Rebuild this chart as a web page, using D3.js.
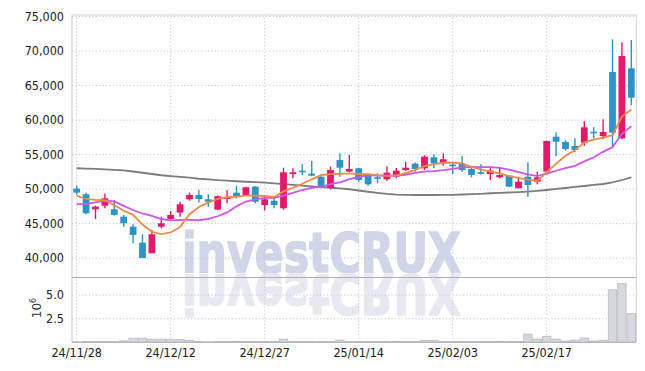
<!DOCTYPE html>
<html>
<head>
<meta charset="utf-8">
<script src="https://cdn.jsdelivr.net/npm/d3@7"></script>
<style>
  body { margin: 0; background: #fff; }
  svg text { font-family: "DejaVu Sans Condensed", "DejaVu Sans", sans-serif; font-stretch: condensed; }
</style>
</head>
<body>
<svg></svg>
<script>
// trading days
const dates = ["24/11/28","24/11/29","24/12/02","24/12/03","24/12/04","24/12/05","24/12/06","24/12/09","24/12/10","24/12/11",
  "24/12/12","24/12/13","24/12/16","24/12/17","24/12/18","24/12/19","24/12/20","24/12/23","24/12/24","24/12/26",
  "24/12/27","24/12/30","25/01/02","25/01/03","25/01/06","25/01/07","25/01/08","25/01/09","25/01/10","25/01/13",
  "25/01/14","25/01/15","25/01/16","25/01/17","25/01/20","25/01/21","25/01/22","25/01/23","25/01/24","25/01/31",
  "25/02/03","25/02/04","25/02/05","25/02/06","25/02/07","25/02/10","25/02/11","25/02/12","25/02/13","25/02/14",
  "25/02/17","25/02/18","25/02/19","25/02/20","25/02/21","25/02/24","25/02/25","25/02/26","25/02/27","25/02/28"]

const open = [50000,49180,47010,47530,47010,45940,44490,42170,40640,44490,
  45610,46530,48460,49080,48460,46960,48500,49410,49080,50290,
  47630,48250,47150,52120,52600,52170,51730,50130,54150,52460,
  52950,51830,51640,51350,51730,52690,53620,52950,54540,53670,
  53470,53570,52850,52370,52120,51640,51880,50050,51730,51010,
  52460,57530,56750,56180,56650,58250,57620,66890,57290,67430]

const high = [50400,49410,47530,49300,48360,46190,44840,43390,44010,45940,
  46760,48110,49410,49750,49180,49000,49800,50430,50250,50380,
  48600,48600,53030,52950,53530,54010,51800,53190,55120,54860,
  53000,51900,52220,53190,53000,53900,53800,54860,54990,55120,
  53900,54770,53300,53530,53190,53030,51950,51730,53810,52460,
  56950,58160,57000,57290,59800,58880,60040,71620,71190,71530]

const low = [49100,46300,45600,47150,46100,44490,42090,39950,40640,44260,
  45390,45940,48250,48000,47390,46900,47870,48600,49000,47870,
  46820,47150,46950,51500,51980,51800,50050,49900,51730,52400,
  51010,50380,50770,51150,51500,52600,52450,52700,52950,53300,
  52120,52400,51640,52030,51250,51450,50200,50050,48840,50630,
  52400,54730,55500,55300,56200,57290,57140,55850,57140,62110]

const close = [49420,46430,47390,48600,46190,44980,43290,39950,43390,44980,
  46190,47730,49080,48500,48110,48900,48750,48830,50200,48110,
  48460,47630,52370,52370,52370,51880,50290,52690,53030,52850,
  51250,50630,51440,52310,52600,53030,52850,54630,53670,54250,
  53240,52690,51980,52170,52600,51980,50290,51010,50530,51640,
  56900,56800,55740,55600,58880,58020,58200,58100,69210,63170]

const volume = [20000,50000,50000,50000,50000,120000,400000,400000,300000,300000,
  280000,280000,150000,60000,30000,60000,60000,60000,60000,60000,
  60000,60000,300000,60000,60000,60000,60000,60000,200000,60000,
  60000,60000,60000,60000,60000,60000,60000,150000,150000,50000,
  50000,50000,50000,50000,50000,50000,50000,50000,830000,300000,
  600000,300000,100000,200000,420000,100000,180000,5500000,6150000,3000000]

// moving averages (orange short, purple mid, gray long)
const ma5 = [48940,48500,48360,48300,47630,46800,46200,44800,43750,43400,
  43650,44450,46300,47350,48000,48500,48750,48850,49000,49000,
  48930,48800,49600,50100,50700,51350,51950,52100,52150,52200,
  52100,52100,51950,51850,51900,52250,52700,53250,53550,53750,
  53750,53650,53150,52800,52480,52200,51800,51550,51300,51150,
  52400,53600,54750,55550,56700,57100,57400,57750,60450,61450]

const ma10 = [47770,47780,48000,48250,48150,47500,46900,46400,46040,45600,
  45410,45460,45460,45420,45620,46000,46550,47440,48130,48440,
  48670,48660,48990,49370,49800,50100,50250,50640,50920,51390,
  51670,51970,51880,51870,51900,52010,52270,52460,52530,52670,
  52870,53070,53130,53110,53110,53010,52750,52390,52070,51810,
  52180,52590,52970,53310,53940,54540,55330,56040,57910,59060]

const maLong = [52950,52900,52860,52800,52730,52630,52480,52300,52120,51940,
  51810,51690,51580,51430,51330,51230,51170,51070,51000,50940,
  50860,50750,50650,50530,50430,50310,50210,50130,50050,49910,
  49730,49550,49370,49230,49140,49100,49080,49080,49080,49100,
  49110,49150,49200,49250,49330,49390,49440,49500,49570,49670,
  49800,49950,50090,50240,50380,50530,50670,50890,51250,51640]

const priceTicks = [40000,45000,50000,55000,60000,65000,70000,75000]
const volTicks = [2500000,5000000]
const dateTicks = dates.filter((d, i) => i % 10 === 0)

const width = 645
const height = 371
const left = 72, right = 636
const priceTop = 15, priceBottom = 277
const volTop = 277, volBottom = 342

const upColor = '#e5196b'
const downColor = '#2e93c7'
const gridColor = '#c3c7dc'

const svg = d3.select('svg')
  .attr('width', width)
  .attr('height', height)

var x = d3.scaleBand().domain(dates).range([left, right])
var y = d3.scaleLinear().domain([37200, 75150]).range([priceBottom, priceTop])
var yv = d3.scaleLinear().domain([0, 6850000]).range([volBottom, volTop])
const cx = d => x(d) + x.bandwidth() / 2

// watermark + its reflection
function watermark(fill, transform) {
  svg.append('text')
    .attr('x', 182).attr('y', 272)
    .attr('transform', transform)
    .attr('textLength', 279).attr('lengthAdjust', 'spacingAndGlyphs')
    .style('font-family', '"DejaVu Sans", sans-serif')
    .style('font-stretch', 'normal')
    .style('font-size', '55px').style('font-weight', 'bold')
    .style('fill', fill)
    .style('stroke', fill).style('stroke-width', 1.6)
    .text('investCRUX')
}
watermark('#d0d5e8', null)
watermark('#e8e9f0', 'translate(0,547) scale(1,-1)')

// price grid + labels
var yAxis = svg.append('g')
  .attr('transform', 'translate(' + left + ',0)')
  .call(d3.axisLeft(y).tickValues(priceTicks).tickSize(-(right - left)).tickPadding(8).tickFormat(d3.format(',')))
yAxis.select('.domain').remove()

// volume grid + labels
var vAxis = svg.append('g')
  .attr('transform', 'translate(' + left + ',0)')
  .call(d3.axisLeft(yv).tickValues(volTicks).tickSize(-(right - left)).tickPadding(8).tickFormat(d => (d / 1e6).toFixed(1)))
vAxis.select('.domain').remove()

// date grid + labels
var xAxis = svg.append('g')
  .attr('transform', 'translate(0,' + volBottom + ')')
  .call(d3.axisBottom(x).tickValues(dateTicks).tickSize(-(volBottom - priceTop)).tickPadding(6))
xAxis.select('.domain').remove()

svg.selectAll('.tick line')
  .attr('stroke', gridColor)
  .attr('stroke-dasharray', '1.2,2.2')
svg.selectAll('.tick text')
  .style('font-size', '12.5px')
  .style('fill', '#222')

// frame
svg.append('line').attr('x1', left).attr('x2', left).attr('y1', priceTop).attr('y2', volBottom).attr('stroke', '#c9cad4')
svg.append('line').attr('x1', right + 0.5).attr('x2', right + 0.5).attr('y1', priceTop).attr('y2', volBottom).attr('stroke', '#d4d5dc')
svg.append('line').attr('x1', left).attr('x2', right).attr('y1', priceTop).attr('y2', priceTop).attr('stroke', '#d2d4e2')
svg.append('line').attr('x1', left).attr('x2', right).attr('y1', priceBottom + 0.5).attr('y2', priceBottom + 0.5).attr('stroke', '#aeaeb6')
svg.append('line').attr('x1', left).attr('x2', right).attr('y1', volBottom + 0.5).attr('y2', volBottom + 0.5).attr('stroke', '#b4b4bc')

// 10^6 label
var unit = svg.append('text')
  .attr('transform', 'translate(41,308) rotate(-90)')
  .attr('text-anchor', 'middle')
  .style('font-family', '"DejaVu Sans", sans-serif')
  .style('font-stretch', 'normal')
  .style('font-size', '12px')
  .style('fill', '#333')
unit.append('tspan').text('10')
unit.append('tspan').attr('dy', -5).style('font-size', '8px').text('6')

// volume bars
svg.append('g')
  .selectAll('rect')
  .data(dates)
  .enter().append('rect')
    .attr('x', d => x(d) + 0.5)
    .attr('width', x.bandwidth() - 1)
    .attr('y', (d, i) => yv(volume[i]))
    .attr('height', (d, i) => volBottom - yv(volume[i]))
    .attr('fill', '#d7d7de')
    .attr('stroke', '#b9b9c2')
    .attr('stroke-width', 0.8)

// moving average lines
var line = d3.line().x((d, i) => cx(dates[i])).y(d => y(d))
svg.append('path').datum(maLong).attr('d', line).attr('fill', 'none').attr('stroke', '#7d7d7d').attr('stroke-width', 1.8)

// candles
var candle = svg.append('g')
  .selectAll('g')
  .data(dates)
  .enter().append('g')

candle.append('line')
  .attr('x1', d => cx(d)).attr('x2', d => cx(d))
  .attr('y1', (d, i) => y(high[i]))
  .attr('y2', (d, i) => y(low[i]))
  .attr('stroke', (d, i) => close[i] >= open[i] ? upColor : downColor)
  .attr('stroke-width', 1.4)

candle.append('rect')
  .attr('x', d => cx(d) - 3.4)
  .attr('width', 6.8)
  .attr('y', (d, i) => y(Math.max(open[i], close[i])))
  .attr('height', (d, i) => Math.max(1.6, Math.abs(y(open[i]) - y(close[i]))))
  .attr('fill', (d, i) => close[i] >= open[i] ? upColor : downColor)

svg.append('path').datum(ma10).attr('d', line).attr('fill', 'none').attr('stroke', '#cc55ea').attr('stroke-width', 1.8)
svg.append('path').datum(ma5).attr('d', line).attr('fill', 'none').attr('stroke', '#f08a4b').attr('stroke-width', 1.8)
</script>
</body>
</html>
